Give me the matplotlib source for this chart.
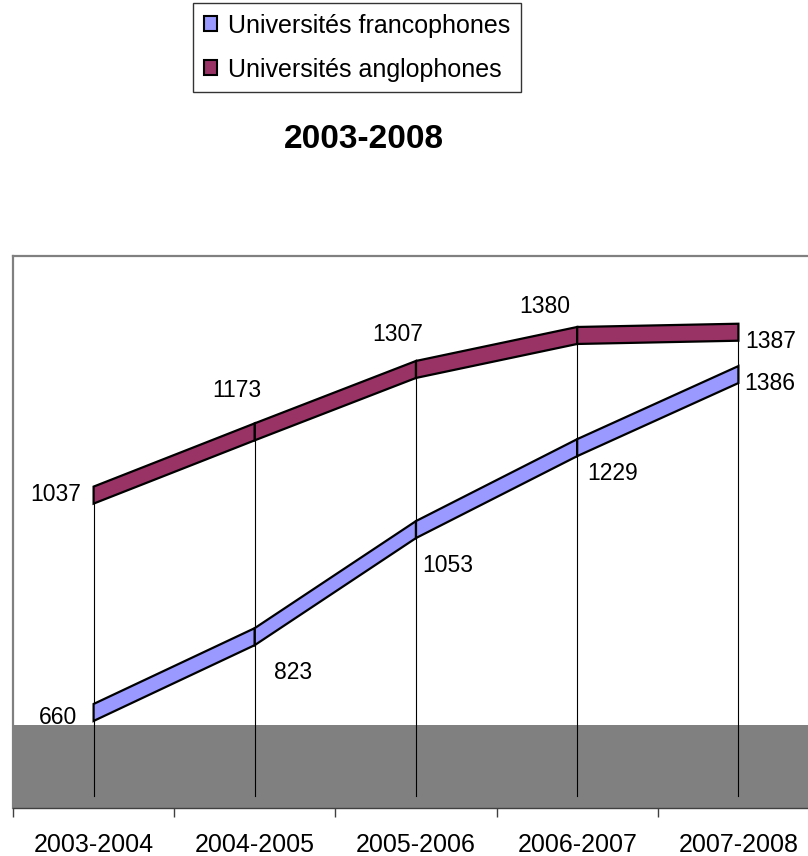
import matplotlib
matplotlib.use('Agg')
import matplotlib.pyplot as plt
from matplotlib.patches import Polygon, Patch

plt.rcParams['font.family'] = ['Liberation Sans', 'DejaVu Sans']

# ── Données ───────────────────────────────────────────────────────────────────

annees = ['2003-2004', '2004-2005', '2005-2006', '2006-2007', '2007-2008']
francophones = [660, 823, 1053, 1229, 1386]
anglophones = [1037, 1173, 1307, 1380, 1387]

# ── Style ─────────────────────────────────────────────────────────────────────

COL_FR = '#9999FF'
COL_EN = '#993366'
GRIS = '#808080'

Y_MIN, Y_MAX = 473, 1659      # limites de l'axe (unités de valeur)
SOL = 651                      # haut du "sol" gris 3D
BAS_LIGNES = 499               # bas des lignes de rappel
EPAISSEUR = 36.5               # épaisseur verticale du ruban
PROFONDEUR = 90                # décalage de la série arrière (3D)

# décalages des étiquettes (pixels) par rapport au point
off_fr = [(-36, 3), (38, -27), (32, -27), (35, -17), (31, 0)]
off_en = [(-38, 9), (-18, 50), (-18, 43), (-32, 37), (32, -1)]


def ruban(ax, xs, ys, couleur):
    """Dessine un ruban façon ligne 3D Excel, segment par segment."""
    for i in range(len(xs) - 1):
        pts = [(xs[i], ys[i]), (xs[i + 1], ys[i + 1]),
               (xs[i + 1], ys[i + 1] + EPAISSEUR), (xs[i], ys[i] + EPAISSEUR)]
        ax.add_patch(Polygon(pts, closed=True, facecolor=couleur,
                             edgecolor='black', linewidth=1.6, zorder=3,
                             joinstyle='miter'))


W, H = 808, 856
fig = plt.figure(figsize=(W / 100, H / 100), dpi=100)
ax = fig.add_axes([13 / W, (H - 808) / H, (819 - 13) / W, (808 - 256) / H])

x = list(range(len(annees)))
y_en = [v + PROFONDEUR for v in anglophones]

# sol gris
ax.axhspan(Y_MIN, SOL, color=GRIS, zorder=0, linewidth=0)

# lignes de rappel
for xi, yi in zip(x, y_en):
    ax.plot([xi, xi], [BAS_LIGNES, yi + EPAISSEUR], color='black',
            linewidth=0.8, zorder=1)

ruban(ax, x, y_en, COL_EN)
ruban(ax, x, francophones, COL_FR)

# étiquettes de données
for xi, v, off in zip(x, francophones, off_fr):
    ax.annotate(str(v), (xi, v), xytext=off, textcoords='offset pixels',
                ha='center', va='center', fontsize=16.5, zorder=5)
for xi, yi, v, off in zip(x, y_en, anglophones, off_en):
    ax.annotate(str(v), (xi, yi), xytext=off, textcoords='offset pixels',
                ha='center', va='center', fontsize=16.5, zorder=5)

ax.set_xlim(-0.5, len(annees) - 0.5)
ax.set_ylim(Y_MIN, Y_MAX)

ax.set_xticks(x)
ax.set_xticklabels(annees, fontsize=18)
ax.set_xticks([i - 0.5 for i in range(len(annees) + 1)], minor=True)
ax.tick_params(axis='x', which='major', length=0, pad=18)
ax.tick_params(axis='x', which='minor', length=6.5, width=1, color='#404040')
ax.set_yticks([])

for s in ('left', 'top'):
    ax.spines[s].set_color(GRIS)
    ax.spines[s].set_linewidth(1.6)
ax.spines['right'].set_visible(False)
ax.spines['bottom'].set_color('#404040')
ax.spines['bottom'].set_linewidth(1)

# ── Titre et légende ──────────────────────────────────────────────────────────

fig.text(364 / W, 1 - 139 / H, '2003-2008', ha='center', va='center',
         fontsize=24, fontweight='bold')

handles = [Patch(facecolor=COL_FR, edgecolor='black', linewidth=1.5),
           Patch(facecolor=COL_EN, edgecolor='black', linewidth=1.5)]
leg = fig.legend(handles, ['Universités francophones', 'Universités anglophones'],
                 loc='upper left', bbox_to_anchor=(193 / W, 1 - 3 / H),
                 fontsize=18, frameon=True, fancybox=False,
                 edgecolor='black', handlelength=0.55, handleheight=0.55,
                 handletextpad=0.45, labelspacing=0.8, borderpad=0.42,
                 borderaxespad=0)
leg.get_frame().set_linewidth(1)

fig.savefig('out.png', dpi=100)
